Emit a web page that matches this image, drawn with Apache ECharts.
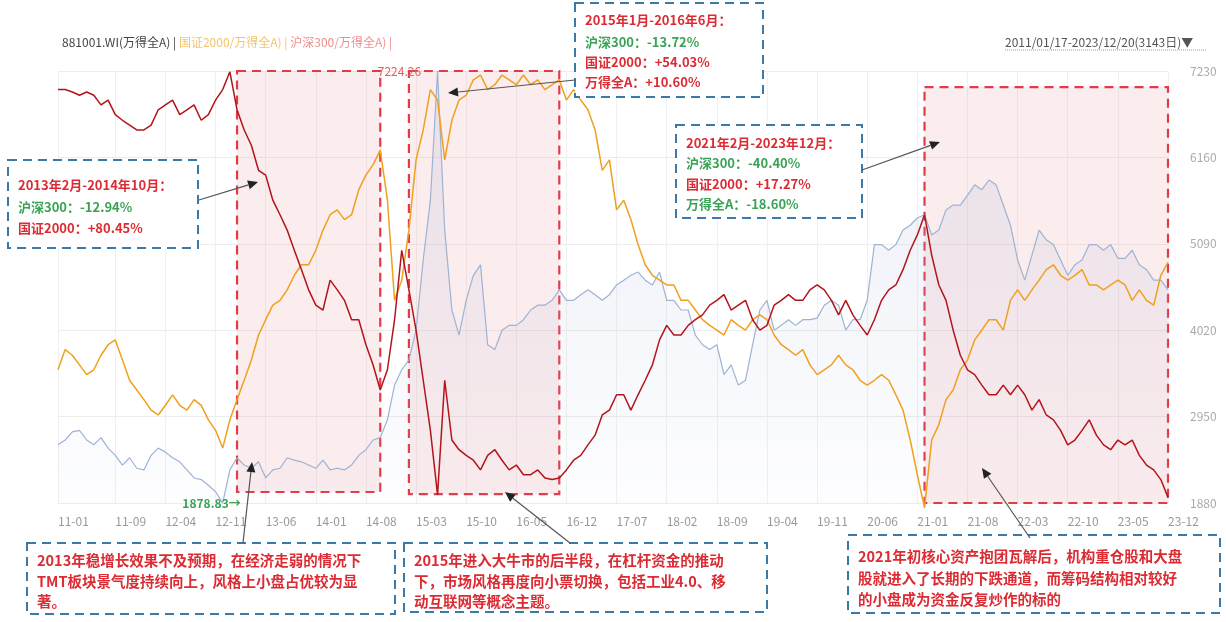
<!DOCTYPE html>
<html><head><meta charset="utf-8">
<script src="https://cdn.jsdelivr.net/npm/echarts@6/dist/echarts.min.js"></script>
<style>html,body{margin:0;padding:0;background:#fff}#c{width:1226px;height:622px}</style>
</head><body><div id="c"></div>
<script>
const categories = [
'11-01','11-02','11-03','11-04','11-05','11-06','11-07','11-08','11-09','11-10','11-11','11-12',
'12-01','12-02','12-03','12-04','12-05','12-06','12-07','12-08','12-09','12-10','12-11','12-12',
'13-01','13-02','13-03','13-04','13-05','13-06','13-07','13-08','13-09','13-10','13-11','13-12',
'14-01','14-02','14-03','14-04','14-05','14-06','14-07','14-08','14-09','14-10','14-11','14-12',
'15-01','15-02','15-03','15-04','15-05','15-06','15-07','15-08','15-09','15-10','15-11','15-12',
'16-01','16-02','16-03','16-04','16-05','16-06','16-07','16-08','16-09','16-10','16-11','16-12',
'17-01','17-02','17-03','17-04','17-05','17-06','17-07','17-08','17-09','17-10','17-11','17-12',
'18-01','18-02','18-03','18-04','18-05','18-06','18-07','18-08','18-09','18-10','18-11','18-12',
'19-01','19-02','19-03','19-04','19-05','19-06','19-07','19-08','19-09','19-10','19-11','19-12',
'20-01','20-02','20-03','20-04','20-05','20-06','20-07','20-08','20-09','20-10','20-11','20-12',
'21-01','21-02','21-03','21-04','21-05','21-06','21-07','21-08','21-09','21-10','21-11','21-12',
'22-01','22-02','22-03','22-04','22-05','22-06','22-07','22-08','22-09','22-10','22-11','22-12',
'23-01','23-02','23-03','23-04','23-05','23-06','23-07','23-08','23-09','23-10','23-11','23-12'];

const tickLabels = ['11-01','11-09','12-04','12-11','13-06','14-01','14-08','15-03','15-10','16-05','16-12',
'17-07','18-02','18-09','19-04','19-11','20-06','21-01','21-08','22-03','22-10','23-05','23-12'];

const yTicks = [1880, 2950, 4020, 5090, 6160, 7230];

// 881001.WI 万得全A
const windA = [
2600,2660,2760,2780,2660,2600,2690,2560,2470,2350,2440,2310,
2290,2470,2560,2510,2440,2390,2290,2190,2170,2100,2020,1878.83,
2290,2440,2350,2310,2390,2190,2290,2310,2440,2410,2390,2350,
2310,2410,2290,2310,2290,2350,2470,2540,2660,2690,2910,3340,
3530,3650,4020,4890,5630,7224.26,5260,4270,3960,4390,4700,4830,
3840,3780,4020,4080,4080,4150,4270,4330,4330,4390,4520,4390,
4390,4460,4520,4460,4390,4460,4580,4640,4700,4740,4640,4580,
4740,4390,4390,4270,4270,3960,3840,3780,3840,3470,3590,3340,
3400,3840,4270,4390,4020,4080,4150,4080,4150,4150,4170,4330,
4390,4330,4020,4150,4150,4390,5080,5080,5010,5080,5260,5320,
5410,5450,5200,5260,5510,5570,5570,5690,5820,5760,5880,5820,
5570,5320,4890,4640,4950,5260,5140,5080,4890,4700,4830,4890,
5080,5080,5010,5080,4910,4910,5010,4830,4770,4640,4640,4520];

// 国证2000/万得全A (plotted on the same display scale)
const gz2000Ratio = [
3530,3780,3710,3590,3470,3530,3710,3840,3900,3650,3400,3280,
3160,3030,2970,3090,3220,3090,3030,3160,3090,2910,2780,2560,
2910,3160,3400,3650,3960,4150,4330,4390,4520,4700,4830,4830,
5010,5260,5450,5510,5390,5450,5760,5940,6070,6250,5630,4390,
4640,5260,6130,6500,7000,6870,6130,6620,6870,6930,7120,7180,
7000,7060,7180,7120,7060,7180,7060,7120,7000,7060,7120,6870,
7000,6870,6750,6500,6000,6130,5510,5630,5390,5080,4830,4700,
4640,4580,4580,4390,4390,4270,4150,4080,4020,3960,4150,4080,
4020,4150,4210,4150,3960,3840,3780,3710,3780,3590,3470,3530,
3590,3710,3590,3530,3400,3340,3400,3470,3400,3220,3030,2660,
2230,1820,2660,2850,3160,3280,3530,3650,3900,4020,4150,4150,
4020,4390,4520,4390,4520,4640,4770,4830,4700,4640,4700,4770,
4580,4580,4520,4580,4640,4580,4390,4520,4390,4330,4700,4860];

// 沪深300/万得全A (plotted on the same display scale)
const hs300Ratio = [
7000,7000,6970,6930,6970,6930,6810,6870,6690,6620,6560,6500,
6500,6560,6750,6810,6870,6690,6750,6810,6620,6690,6870,7000,
7220,6750,6500,6310,6000,5940,5630,5450,5260,5010,4770,4520,
4330,4270,4640,4520,4390,4150,4150,3840,3590,3280,3530,4150,
5010,4520,4020,3400,2780,1980,3400,2660,2540,2470,2410,2290,
2470,2540,2410,2290,2350,2230,2230,2290,2190,2170,2190,2290,
2410,2470,2600,2720,2970,3030,3220,3220,3030,3220,3400,3590,
3900,4080,3960,3960,4080,4150,4210,4330,4390,4460,4270,4330,
4390,4150,4020,4080,4330,4390,4460,4390,4390,4520,4580,4520,
4390,4210,4390,4210,4080,3960,4150,4390,4520,4580,4770,5010,
5200,5450,4950,4580,4390,4020,3710,3530,3470,3340,3220,3220,
3340,3220,3340,3220,3030,3160,2970,2910,2780,2600,2660,2780,
2910,2720,2600,2540,2660,2600,2660,2470,2350,2290,2170,1950];

// highlighted periods: [start, end, top, bottom]
const periods = [
  ['13-02','14-10',7240,2016],
  ['15-02','16-11',7240,1990],
  ['21-02','23-12',7030,1790]
];

const chart = echarts.init(document.getElementById('c'));

function arrow(x1,y1,x2,y2){
  const a=Math.atan2(y2-y1,x2-x1), L=10, W=4.5;
  const bx=x2-L*Math.cos(a), by=y2-L*Math.sin(a);
  return [
    {type:'line',z:120,shape:{x1:x1,y1:y1,x2:bx,y2:by},style:{stroke:'#555',lineWidth:1.2}},
    {type:'polygon',z:120,shape:{points:[[x2,y2],[bx+W*Math.sin(a),by-W*Math.cos(a)],[bx-W*Math.sin(a),by+W*Math.cos(a)]]},style:{fill:'#222'}}
  ];
}
const F = '"Noto Sans CJK SC", sans-serif';
const RED='#dc2b33', GREEN='#3aa356', BOXC='#3b79a8';
function box(x,y,w,h){
  return {type:'rect',z:110,shape:{x:x,y:y,width:w,height:h},
    style:{fill:'rgba(255,255,255,0.96)',stroke:BOXC,lineWidth:2,lineDash:[9,6]}};
}
function txt(x,y,s,color,size){
  return {type:'text',z:115,x:x,y:y,style:{text:s,fill:color,font:'bold '+(size||13)+'px '+F,textVerticalAlign:'middle'}};
}

const graphics = [
  {type:'text',x:62,y:42,style:{text:'{a|881001.WI(万得全A) | }{b|国证2000/万得全A) | }{c|沪深300/万得全A) |}',
    rich:{a:{fill:'#444',font:'12px '+F},b:{fill:'#f3c46c',font:'12px '+F},c:{fill:'#ef8f8f',font:'12px '+F}},textVerticalAlign:'middle'}},
  {type:'text',x:1005,y:42,style:{text:'2011/01/17-2023/12/20(3143日)▼',fill:'#555',font:'12px '+F,textVerticalAlign:'middle'}},
  {type:'line',shape:{x1:1005,y1:50,x2:1206,y2:50},style:{stroke:'#999',lineWidth:1,lineDash:[1,1]}},
  // box A
  box(575,3,188,94),
  txt(585,20,'2015年1月-2016年6月：',RED),
  txt(585,42,'沪深300：-13.72%',GREEN),
  txt(585,62,'国证2000：+54.03%',RED),
  txt(585,82,'万得全A：+10.60%',RED),
  // box B
  box(8,160,190,88),
  txt(18,185,'2013年2月-2014年10月：',RED),
  txt(18,207,'沪深300：-12.94%',GREEN),
  txt(18,228,'国证2000：+80.45%',RED),
  // box C
  box(676,125,186,93),
  txt(686,143,'2021年2月-2023年12月：',RED),
  txt(686,163,'沪深300：-40.40%',GREEN),
  txt(686,184,'国证2000：+17.27%',RED),
  txt(686,204,'万得全A：-18.60%',GREEN),
  // bottom boxes
  box(27,543,368,71),
  txt(37,560,'2013年稳增长效果不及预期，在经济走弱的情况下',RED,14.5),
  txt(37,581,'TMT板块景气度持续向上，风格上小盘占优较为显',RED,14.5),
  txt(37,601,'著。',RED,14.5),
  box(404,543,363,69),
  txt(414,560,'2015年进入大牛市的后半段，在杠杆资金的推动',RED,14.5),
  txt(414,581,'下，市场风格再度向小票切换，包括工业4.0、移',RED,14.5),
  txt(414,601,'动互联网等概念主题。',RED,14.5),
  box(848,535,372,78),
  txt(858,556,'2021年初核心资产抱团瓦解后，机构重仓股和大盘',RED,14.5),
  txt(858,578,'股就进入了长期的下跌通道，而筹码结构相对较好',RED,14.5),
  txt(858,599,'的小盘成为资金反复炒作的标的',RED,14.5)
].concat(arrow(575,80,448,93), arrow(199,200,258,182), arrow(862,170,940,142),
         arrow(243,543,252,462), arrow(570,543,505,492), arrow(1030,538,982,468));

const showTick = (i, v) => tickLabels.indexOf(v) >= 0;

chart.setOption({
  animation:false,
  backgroundColor:'#fff',
  grid:{left:58,right:58,top:71,bottom:119},
  xAxis:{type:'category',data:categories,boundaryGap:false,
    axisLine:{show:false},axisTick:{show:false},
    axisLabel:{interval:showTick,color:'#999',fontSize:12,fontFamily:F,align:'left',margin:12},
    splitLine:{show:true,interval:showTick,lineStyle:{color:'#f0f0f0',width:1}}},
  yAxis:{type:'value',position:'right',min:yTicks[0],max:yTicks[yTicks.length-1],interval:yTicks[1]-yTicks[0],
    axisLine:{show:false},axisTick:{show:false},
    axisLabel:{color:'#aaa',fontSize:12,fontFamily:F,margin:22,formatter:v=>String(v)},
    splitLine:{lineStyle:{color:'#ececec'}}},
  series:[
    {name:'881001.WI(万得全A)',type:'line',data:windA,symbol:'none',clip:false,
      lineStyle:{color:'#9db3d3',width:1.2},
      areaStyle:{color:new echarts.graphic.LinearGradient(0,0,0,1,[{offset:0,color:'rgba(170,185,220,0.35)'},{offset:1,color:'rgba(170,185,220,0.03)'}])},
      markPoint:{symbol:'circle',symbolSize:1,data:[
        {type:'max',label:{show:true,position:'left',distance:16,color:'#e06060',fontSize:12,fontFamily:F,formatter:p=>p.value.toFixed(2)}}
      ]},
      markArea:{silent:true,itemStyle:{color:'rgba(232,140,150,0.17)',borderColor:'#e23b48',borderWidth:2.2,borderType:[9,6]},
        data:periods.map(p=>[{xAxis:p[0],yAxis:p[2]},{xAxis:p[1],yAxis:p[3]}])}},
    {name:'国证2000/万得全A',type:'line',data:gz2000Ratio,symbol:'none',clip:false,
      lineStyle:{color:'#f0a01e',width:1.5}},
    {name:'沪深300/万得全A',type:'line',data:hs300Ratio,symbol:'none',clip:false,
      lineStyle:{color:'#b3141c',width:1.5}}
  ],
  graphic:graphics
});

// minimum label of 万得全A, placed from the data through the axes
const minVal = Math.min.apply(null, windA);
const minIdx = windA.indexOf(minVal);
const pt = chart.convertToPixel({gridIndex:0}, [categories[minIdx], minVal]);
chart.setOption({graphic: graphics.concat([
  {type:'text',z:118,x:pt[0]+18,y:pt[1],style:{text:minVal.toFixed(2)+'→',fill:'#3aa356',
    font:'bold 12px '+F,textAlign:'right',textVerticalAlign:'middle'}}
])});
</script></body></html>
